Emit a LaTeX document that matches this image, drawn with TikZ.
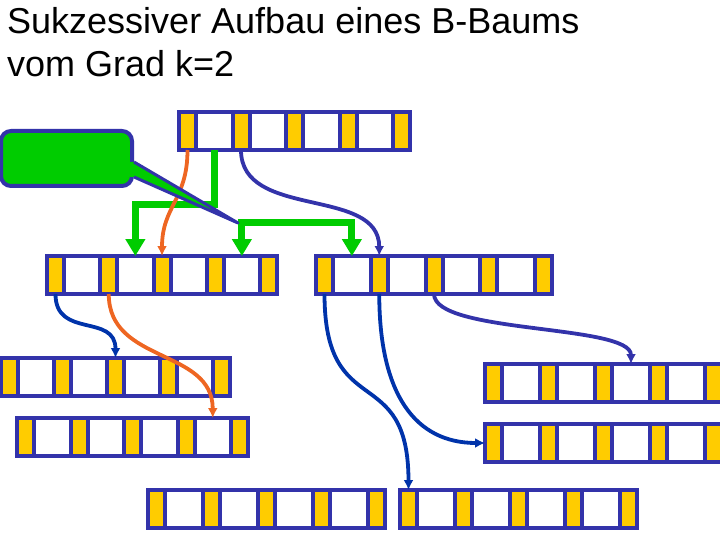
\documentclass[tikz,border=0pt]{standalone}
\usepackage{fontspec}
\newfontfamily\titelschrift{Liberation Sans}
\usetikzlibrary{arrows.meta}
\usetikzlibrary{calc}
\definecolor{rahmenblau}{RGB}{51,51,170}
\definecolor{zeigergelb}{RGB}{255,204,0}
\definecolor{pfeilblau}{RGB}{0,51,170}
\definecolor{pfeilgruen}{RGB}{0,204,0}
\definecolor{pfeilorange}{RGB}{238,102,34}
\tikzset{%
    knoten/.style={draw=rahmenblau,line width=4pt,fill=white},
    zeiger/.style={draw=rahmenblau,line width=4pt,fill=zeigergelb},
    blaupfeil/.style={draw=pfeilblau,line width=3.8pt,-{Latex[length=10pt,width=10pt]}},
    violettpfeil/.style={blaupfeil,draw=rahmenblau},
    orangepfeil/.style={blaupfeil,draw=pfeilorange},
    gruenpfeil/.style={draw=pfeilgruen,line width=7pt},
    hinweis/.style={draw=rahmenblau,line width=4pt,fill=pfeilgruen,rounded corners=10pt,
        minimum width=131pt,minimum height=55pt,inner sep=0pt},
    titel/.style={anchor=base west,inner sep=0pt,font=\titelschrift\fontsize{36}{40}\selectfont},
}
% B-Baum-Knoten: #1 Name, #2 x, #3 y (oben links), #4 Breite
\newcommand{\bknoten}[4]{%
    \pgfmathsetmacro{\bpitch}{(#4-17)/4}
    \draw[knoten] (#2,#3) rectangle ++(#4,38);
    \foreach \i in {0,...,4}{
        \draw[zeiger] ({#2+\i*\bpitch},#3) rectangle ++(17,38);
        \coordinate (#1-p\i) at ({#2+\i*\bpitch+8.5},#3+38);
        \coordinate (#1-o\i) at ({#2+\i*\bpitch+8.5},#3);
    }
    \foreach \i in {0,...,3}{
        \coordinate (#1-k\i) at ({#2+\i*\bpitch+8.5+\bpitch/2},#3);
        \coordinate (#1-u\i) at ({#2+\i*\bpitch+8.5+\bpitch/2},#3+38);
    }
    \coordinate (#1-w) at (#2,#3+19);
}

\begin{document}
\begin{tikzpicture}[x=1pt,y=-1pt]
    \clip (0,0) rectangle (720,540);

    %Titel
    \node[titel] (titel1) at (7,34) {Sukzessiver Aufbau eines B-Baums};
    \node[titel] (titel2) at (7,77) {vom Grad k=2};

    %Knoten
    \bknoten{wurzel}{179}{112}{231}
    \bknoten{links}{47}{256}{230}
    \bknoten{rechts}{316}{256}{236}
    \bknoten{a}{1}{358}{229}
    \bknoten{b}{17}{418}{231}
    \bknoten{c}{148}{490}{237}
    \bknoten{d}{400}{490}{237}
    \bknoten{e}{485}{364}{237}
    \bknoten{f}{485}{424}{237}

    %Teilung
    \draw[gruenpfeil,-{Triangle[length=17pt,width=19pt]}] (wurzel-u0) -- ++(0,55) -| (links-k1);
    \draw[gruenpfeil,{Triangle[length=17pt,width=19pt]}-{Triangle[length=17pt,width=19pt]}]
        (links-k3) -- ++(0,-33) -| (rechts-k0);

    %Zeiger
    \draw[orangepfeil] (wurzel-p0) .. controls +(0,50) and +(0,-50) .. (links-o2);
    \draw[violettpfeil] (wurzel-p1) .. controls +(0,70) and +(0,-70) .. (rechts-o1);
    \draw[blaupfeil] (links-p0) .. controls +(0,45) and +(0,-45) .. (a-o2);
    \draw[orangepfeil] (links-p1) .. controls +(0,70) and +(0,-70) .. (b-k3);
    \draw[blaupfeil] (rechts-p0) .. controls +(0,130) and +(0,-130) .. (d-o0);
    \draw[blaupfeil] (rechts-p1) .. controls +(0,100) and +(-70,0) .. (f-w);
    \draw[violettpfeil] (rechts-p2) .. controls +(0,40) and +(0,-40) .. (e-k2);

    %Hinweis
    \node[hinweis] (hinweis) at (66.5,158.5) {};
    \coordinate (spitze) at (238,223);
    \fill[pfeilgruen] ($(hinweis.east)+(-6,3.5)$) -- ($(hinweis.east)+(0,3.5)$) -- (spitze)
        -- ($(hinweis.east)+(0,18.5)$) -- ($(hinweis.east)+(-6,18.5)$) -- cycle;
    \draw[draw=rahmenblau,line width=3pt,line join=round] ($(hinweis.east)+(0,3.5)$) -- (spitze)
        -- ($(hinweis.east)+(0,18.5)$);
\end{tikzpicture}
\end{document}
